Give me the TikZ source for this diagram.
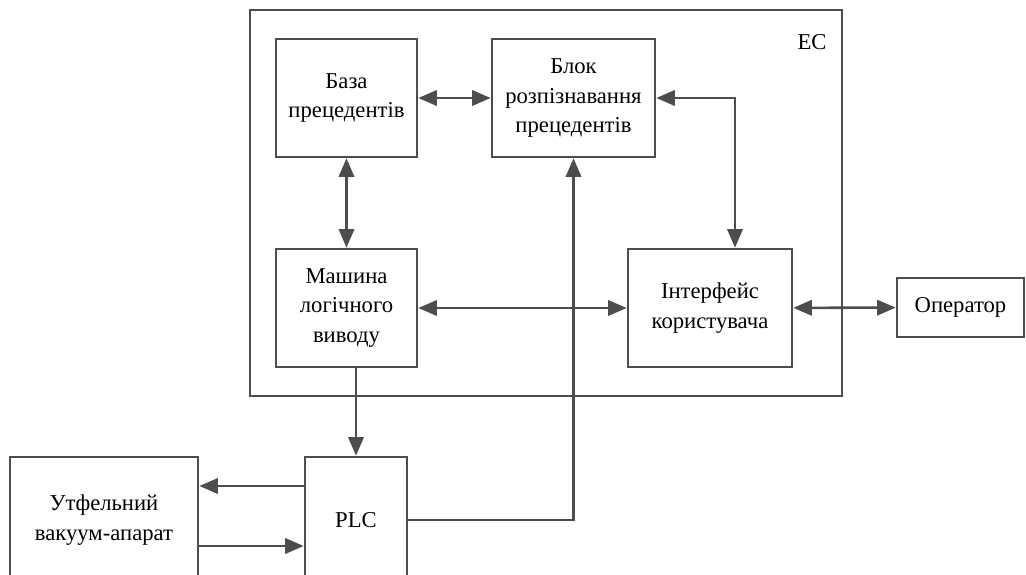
\documentclass[tikz,border=0pt]{standalone}
\usepackage{fontspec}
\setmainfont{Liberation Serif}
\usepackage{xcolor}
\usetikzlibrary{arrows.meta}
\definecolor{linegray}{HTML}{4D4D4D}
\tikzset{
	block/.style={
			draw=linegray, line width=1.9pt, align=center, inner sep=0pt,
			font=\fontsize{17}{22}\selectfont
		},
	link/.style={
			draw=linegray, line width=1.9pt,
			-{Triangle[length=14pt,width=11.5pt]}
		},
	dlink/.style={
			link, {Triangle[length=14pt,width=11.5pt]}-{Triangle[length=14pt,width=11.5pt]}
		}
}

\begin{document}
\begin{tikzpicture}[x=0.75pt,y=-0.75pt]
    \useasboundingbox (0,0) rectangle (1026,575);
    \clip (0,0) rectangle (1026,575);
    % expert system frame
    \node[block,minimum width=444pt,minimum height=289.5pt] (ec) at (546,203) {};
    \node[font=\fontsize{17}{22}\selectfont] (eclabel) at (812,42) {ЕС};
    % blocks inside
    \node[block,minimum width=105.75pt,minimum height=88.5pt] (baza) at (346.5,98) {База\\прецедентів};
    \node[block,minimum width=122.25pt,minimum height=88.5pt] (blok) at (573.5,98) {Блок\\розпізнавання\\прецедентів};
    \node[block,minimum width=105.75pt,minimum height=88.5pt] (mash) at (346.5,308) {Машина\\логічного\\виводу};
    \node[block,minimum width=123pt,minimum height=88.5pt] (intf) at (710,308) {Інтерфейс\\користувача};
    % outside
    \node[block,minimum width=95.25pt,minimum height=44.25pt] (oper) at (960.5,307.5) {Оператор};
    \node[block,minimum width=76.5pt,minimum height=94.5pt] (plc) at (356,520) {PLC};
    \node[block,minimum width=141pt,minimum height=94.5pt] (utf) at (104,520) {Утфельний\\вакуум-апарат};
    % links
    \draw[dlink] (baza) -- (blok);
    \draw[dlink] (blok.east) -| ([xshift=18.75pt]intf.north);
    \draw[dlink] (baza) -- (mash);
    \draw[dlink] (mash) -- (intf);
    \draw[dlink] (intf) -- (oper);
    \draw[link] (mash.south -| plc.north) -- (plc.north);
    \draw[link] (plc.east) -| (blok.south);
    \draw[link] ([yshift=25.5pt]plc.west) -- ([yshift=25.5pt]plc.west -| utf.east);
    \draw[link] ([yshift=-19.5pt]utf.east) -- ([yshift=-19.5pt]utf.east -| plc.west);
\end{tikzpicture}
\end{document}
